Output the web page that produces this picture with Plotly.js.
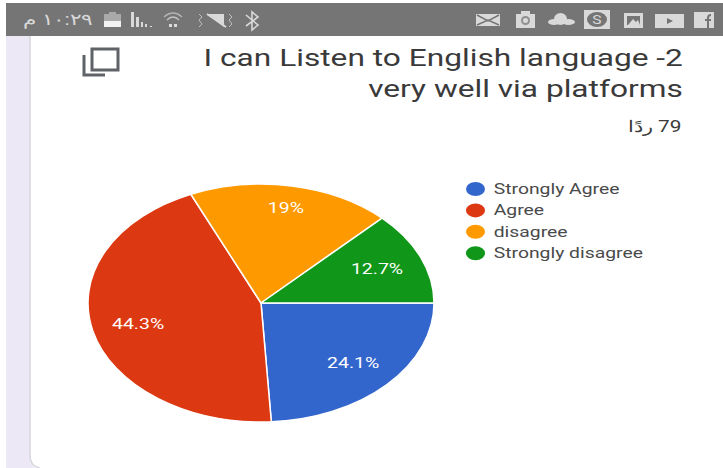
<!DOCTYPE html>
<html>
<head>
<meta charset="utf-8">
<script src="https://cdn.plot.ly/plotly-3.0.1.min.js"></script>
<style>html,body{margin:0;padding:0;background:#fff;overflow:hidden}#chart{width:723px;height:468px}</style>
</head>
<body>
<div id="chart"></div>
<script>
// Survey answers
const categories = ["Strongly Agree", "Agree", "disagree", "Strongly disagree"];
const counts = [19, 35, 15, 10];
const sliceColors = ["#3366cc", "#dc3912", "#ff9900", "#109618"];
const titleText = "I can Listen to English language -2<br>very well via platforms";
const responsesText = "ردًا\u200E 79";
const clockText = "١٠:٢٩ م";

// Canvas and pie geometry, in pixels from the top-left corner
const W = 723, H = 468;
const pieCx = 261, pieCy = 303, pieRx = 173, pieRy = 119;
const labelReach = [0.73, 0.73, 0.81, 0.73];
const px = x => x / W;
const py = y => 1 - y / H;
const total = counts.reduce((a, b) => a + b, 0);

// Helpers for page furniture expressed in paper coordinates
const pathOf = cmds => cmds.map(c => typeof c === "string" ? c : `${px(c[0])},${py(c[1])}`).join(" ")
  .replace(/([MLCQ]) /g, "$1").replace(/ Z/g, "Z");
const fillPath = (cmds, color) => ({type: "path", xref: "paper", yref: "paper", layer: "below",
  path: pathOf(cmds), fillcolor: color, line: {width: 0}});
const strokePath = (cmds, color, width) => ({type: "path", xref: "paper", yref: "paper", layer: "below",
  path: pathOf(cmds), line: {color, width}});
const box = (x0, y0, x1, y1, color) => ({type: "rect", xref: "paper", yref: "paper", layer: "below",
  x0: px(x0), x1: px(x1), y0: py(y0), y1: py(y1), fillcolor: color, line: {width: 0}});
const blob = (x0, y0, x1, y1, color) => ({type: "circle", xref: "paper", yref: "paper", layer: "below",
  x0: px(x0), x1: px(x1), y0: py(y0), y1: py(y1), fillcolor: color, line: {width: 0}});

const barGrey = "#757575", iconLight = "#d9d9d9";
const shapes = [
  // Page background, status bar and card edge
  box(6, 36, 30, H, "#ece8f6"),
  box(6, 3, W, 36, barGrey),
  strokePath(["M", [30, 36], "L", [30, 456], "Q", [30, 466], [40, 468]], "#d5d5dc", 1.5),
  fillPath(["M", [29, 458], "Q", [30, 468], [40, 468], "L", [29, 468], "Z"], "#ece8f6"),

  // Status bar, left group: battery, signal, wifi, muted speaker, bluetooth
  box(104, 14, 121, 21, "#a9a9a9"), box(104, 21, 121, 27, "#f2f2f2"), box(109, 12, 116, 14, "#a9a9a9"),
  box(131, 12, 134, 27, iconLight), box(136, 17, 139, 27, iconLight), box(141, 22, 143, 27, iconLight),
  box(145, 24, 147, 27, iconLight), box(150, 26, 152, 27, iconLight),
  strokePath(["M", [164, 17], "Q", [173, 9], [182, 17]], "#b5b5b5", 1.2),
  strokePath(["M", [167, 20], "Q", [173, 14], [179, 20]], "#c5c5c5", 1.2),
  box(169, 24, 172, 27, iconLight), box(174, 24, 177, 27, iconLight),
  fillPath(["M", [207, 14], "L", [224, 27], "L", [224, 14], "Z"], iconLight),
  strokePath(["M", [207, 14], "L", [226, 27]], iconLight, 2),
  strokePath(["M", [199, 14], "L", [202, 17], "L", [199, 20], "L", [202, 24], "L", [199, 27]], "#c0c0c0", 1),
  strokePath(["M", [229, 14], "L", [232, 17], "L", [229, 20], "L", [232, 24], "L", [229, 27]], "#c0c0c0", 1),
  strokePath(["M", [246, 15], "L", [258, 25], "L", [252, 30], "L", [252, 12], "L", [258, 17], "L", [246, 26]], iconLight, 1.6),

  // Status bar, right group: mail, recycle, cloud, chat, photo, video, social
  box(476, 14, 500, 26, iconLight),
  strokePath(["M", [477, 15], "L", [488, 21], "L", [499, 15]], barGrey, 1.5),
  strokePath(["M", [477, 25], "L", [488, 20], "L", [499, 25]], barGrey, 1.5),
  box(516, 14, 535, 28, iconLight), box(521, 11, 530, 14, iconLight),
  blob(521, 16, 530, 25, "#909090"), blob(523, 18, 528, 23, iconLight),
  blob(548, 19, 560, 25, iconLight), blob(554, 13, 567, 25, iconLight), blob(562, 19, 575, 25, iconLight),
  box(584, 10, 610, 29, iconLight), blob(587, 12, 607, 27, barGrey),
  box(624, 13, 643, 28, iconLight), box(627, 16, 640, 25, barGrey),
  fillPath(["M", [628, 25], "L", [633, 19], "L", [636, 22], "L", [638, 20], "L", [640, 25], "Z"], iconLight),
  box(655, 14, 684, 28, iconLight),
  fillPath(["M", [667, 18], "L", [673, 21], "L", [667, 24], "Z"], barGrey),
  box(694, 12, 714, 28, iconLight),
  strokePath(["M", [708, 28], "L", [708, 18], "Q", [708, 15], [711, 15]], barGrey, 2),
  strokePath(["M", [705, 20], "L", [711, 20]], barGrey, 2),

  // Copy icon next to the question
  strokePath(["M", [92, 49], "L", [118, 49], "L", [118, 70], "L", [92, 70], "Z"], "#5f6368", 3),
  strokePath(["M", [84, 55], "L", [84, 75], "L", [105, 75]], "#5f6368", 3),
];

// Legend swatches come from the category colours
const legendY = i => 189 + i * 21.4;
categories.forEach((c, i) => shapes.push(blob(466, legendY(i) - 7, 485, legendY(i) + 7, sliceColors[i])));

// Annotations, each widened horizontally around its own anchor
const annotations = [];
const stretchOf = [];
function addText(text, x, y, size, color, anchor, stretch) {
  annotations.push({text, x: px(x), y: py(y), xref: "paper", yref: "paper", showarrow: false,
    xanchor: anchor, yanchor: "middle", align: anchor,
    font: {family: "Roboto, sans-serif", size, color}});
  stretchOf.push({x, s: stretch});
}
addText(titleText, 684.5, 73, 24, "#3a3a3a", "right", 1.32);
addText(responsesText, 684, 127, 16, "#3a3a3a", "right", 1.3);
addText(clockText, 20, 20, 16, iconLight, "left", 1.35);
addText("S", 597, 20, 13, iconLight, "center", 1.2);

categories.forEach((c, i) => addText(c, 490.5, legendY(i), 15, "#4a4a4a", "left", 1.29));

// Percent labels sit along the middle angle of each slice
let cumulative = 0;
counts.forEach((v, i) => {
  const mid = (cumulative + v / 2) / total * 2 * Math.PI;
  cumulative += v;
  const lx = pieCx + Math.cos(mid) * pieRx * labelReach[i];
  const ly = pieCy + Math.sin(mid) * pieRy * labelReach[i];
  const pct = +(v / total * 100).toFixed(1);
  addText(pct + "%", lx, ly, 15, "#ffffff", "center", 1.3);
});

const trace = {
  type: "pie",
  labels: categories,
  values: counts,
  sort: false,
  direction: "clockwise",
  rotation: 90,
  textinfo: "none",
  hoverinfo: "label+percent",
  marker: {colors: sliceColors, line: {color: "#ffffff", width: 1.5}},
  domain: {x: [px(pieCx - pieRy), px(pieCx + pieRy)], y: [py(pieCy + pieRy), py(pieCy - pieRy)]}
};

const layout = {
  width: W, height: H,
  margin: {l: 0, r: 0, t: 0, b: 0},
  paper_bgcolor: "#ffffff",
  showlegend: false,
  shapes, annotations
};

Plotly.newPlot("chart", [trace], layout, {displayModeBar: false, staticPlot: true}).then(gd => {
  // The pie is widened into an ellipse around its centre
  const sx = pieRx / pieRy;
  gd.querySelectorAll(".pielayer path.surface").forEach(p => {
    p.setAttribute("transform", `translate(${pieCx},${pieCy}) scale(${sx},1) translate(${-pieCx},${-pieCy})`);
    p.style.vectorEffect = "non-scaling-stroke";
  });
  gd.querySelectorAll(".annotation").forEach((g, i) => {
    const {x, s} = stretchOf[i];
    g.setAttribute("transform", `translate(${x},0) scale(${s},1) translate(${-x},0)`);
  });
});
</script>
</body>
</html>
